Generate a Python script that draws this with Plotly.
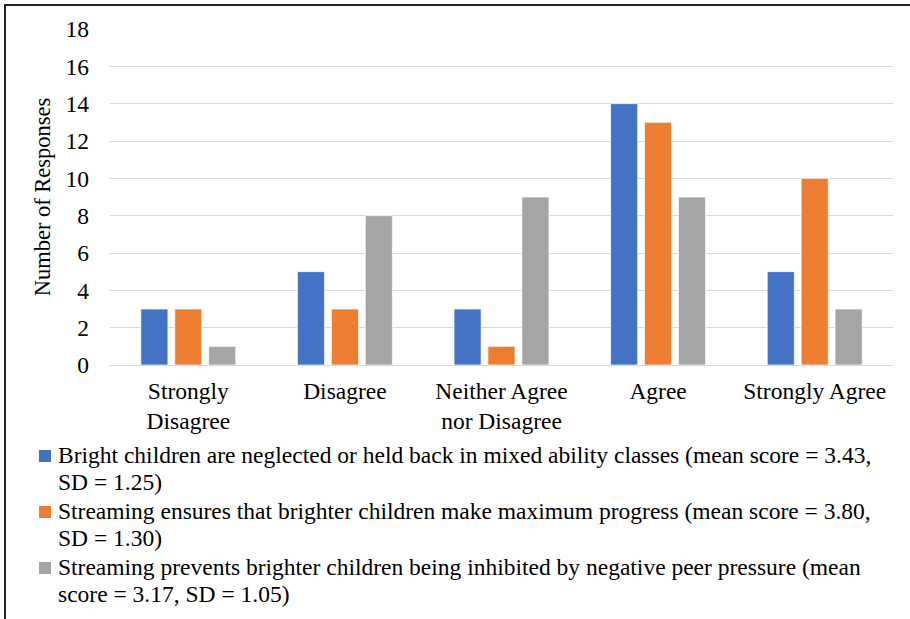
import plotly.graph_objects as go

categories = ["Strongly<br>Disagree", "Disagree", "Neither Agree<br>nor Disagree", "Agree", "Strongly Agree"]

neglected = [3, 5, 3, 14, 5]
max_progress = [3, 3, 1, 13, 10]
peer_pressure = [1, 8, 9, 9, 3]

# Legend wording, already broken into the lines it wraps onto
series_lines = [
    ["Bright children are neglected or held back in mixed ability classes (mean score = 3.43,",
     "SD = 1.25)"],
    ["Streaming ensures that brighter children make maximum progress (mean score = 3.80,",
     "SD = 1.30)"],
    ["Streaming prevents brighter children being inhibited by negative peer pressure (mean",
     "score = 3.17, SD = 1.05)"],
]
series_values = [neglected, max_progress, peer_pressure]
series_colors = ["#4472C4", "#ED7D31", "#A5A5A5"]

y_ticks = [0, 2, 4, 6, 8, 10, 12, 14, 16, 18]

W, H = 910, 619
L, R, T, B = 110, 17, 29, 254
plot_w = W - L - R
plot_h = H - T - B


def px_x(x):
    return (x - L) / plot_w


def px_y(y):
    return (T + plot_h - y) / plot_h


font_family = "Liberation Serif, Times New Roman, serif"
FS = 23.5

fig = go.Figure()
for lines, vals, col in zip(series_lines, series_values, series_colors):
    fig.add_trace(go.Bar(
        x=categories, y=vals, name=" ".join(lines),
        marker=dict(color=col, line=dict(color="white", width=0.75)),
    ))

# Legend block below the plot: a colour key square and two wrapped text lines per series
legend_first_line = [456, 512, 568]
line_step = 27
shapes = []
annotations = []
for lines, col, y0 in zip(series_lines, series_colors, legend_first_line):
    shapes.append(dict(
        type="rect", xref="paper", yref="paper",
        x0=px_x(39), x1=px_x(51), y0=px_y(y0 + 6), y1=px_y(y0 - 6),
        line=dict(width=0), fillcolor=col,
    ))
    for i, txt in enumerate(lines):
        annotations.append(dict(
            text=txt, xref="paper", yref="paper",
            x=px_x(56), y=px_y(y0 + i * line_step - 1),
            xanchor="left", yanchor="middle", showarrow=False,
            font=dict(family=font_family, size=FS, color="#000000"),
        ))

# Outer frame around the chart
shapes.append(dict(
    type="rect", xref="paper", yref="paper",
    x0=px_x(5), x1=1.2, y0=-2.0, y1=px_y(5),
    line=dict(color="#222222", width=2), fillcolor="rgba(0,0,0,0)",
    layer="below",
))

fig.update_layout(
    width=W, height=H,
    margin=dict(l=L, r=R, t=T, b=B, pad=0),
    paper_bgcolor="white", plot_bgcolor="white",
    font=dict(family=font_family, size=FS, color="#000000"),
    barmode="group", bargap=0.35, bargroupgap=0.2,
    showlegend=False,
    xaxis=dict(
        showgrid=False, showline=False, ticks="",
        tickfont=dict(size=FS), automargin=False, ticklabelstandoff=9,
    ),
    yaxis=dict(
        range=[0, 18], tickvals=y_ticks, showgrid=True,
        gridcolor="#D9D9D9", gridwidth=1, zeroline=True,
        zerolinecolor="#D9D9D9", zerolinewidth=1,
        showline=False, ticks="", ticklabelstandoff=20,
        tickfont=dict(size=FS), automargin=False,
        title=dict(text="Number of Responses", font=dict(size=22.5), standoff=8),
    ),
    shapes=shapes,
    annotations=annotations,
)

fig.write_html("out.html")
